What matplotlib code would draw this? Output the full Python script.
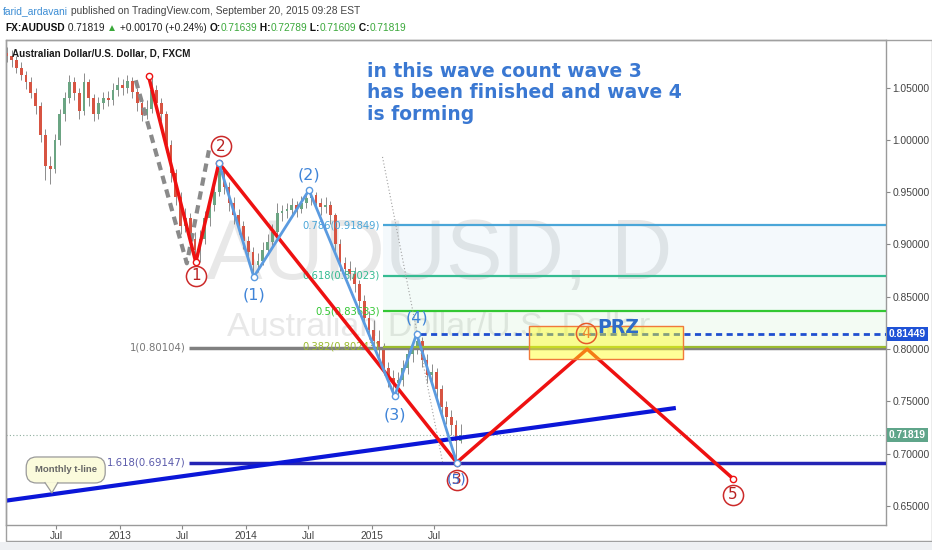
import matplotlib
matplotlib.use('Agg')
import matplotlib.pyplot as plt
import matplotlib.dates as mdates
import matplotlib.transforms as mtransforms
from matplotlib import font_manager
from matplotlib.patches import Rectangle, Polygon
import numpy as np
import pandas as pd

W, H = 932, 550

installed = {f.name for f in font_manager.fontManager.ttflist}
HAS_NARROW = 'Liberation Sans Narrow' in installed
NARROW = 'Liberation Sans Narrow' if HAS_NARROW else 'Liberation Sans'
SANS = 'Liberation Sans'
# text sizes drop a bit when the narrow face is missing
NS = 1.0 if HAS_NARROW else 0.84

# ---- candles (two-week bars) ----
bar_start = '2012-02-08'
opens = [1.083, 1.080, 1.076, 1.069, 1.062, 1.055, 1.045, 1.032, 1.005, 0.975,
         0.972, 1.000, 1.025, 1.040, 1.055, 1.045, 1.028, 1.055, 1.040, 1.025,
         1.035, 1.040, 1.038, 1.048, 1.052, 1.050, 1.056, 1.046, 1.035, 1.024,
         1.030, 1.048, 1.035, 1.025, 0.995, 0.968, 0.945, 0.918, 0.925, 0.905,
         0.895, 0.905, 0.925, 0.938, 0.950, 0.970, 0.955, 0.940, 0.928, 0.918,
         0.903, 0.893, 0.880, 0.884, 0.895, 0.902, 0.912, 0.930, 0.932, 0.933,
         0.938, 0.934, 0.940, 0.944, 0.947, 0.940, 0.936, 0.938, 0.928, 0.900,
         0.882, 0.877, 0.872, 0.862, 0.846, 0.830, 0.818, 0.808, 0.800, 0.782,
         0.772, 0.768, 0.770, 0.782, 0.795, 0.800, 0.808, 0.790, 0.775, 0.778,
         0.762, 0.745, 0.735, 0.727, 0.712]
highs = [1.089, 1.086, 1.080, 1.074, 1.066, 1.060, 1.050, 1.036, 1.010, 0.985,
         1.006, 1.030, 1.046, 1.062, 1.060, 1.050, 1.064, 1.058, 1.044, 1.041,
         1.046, 1.047, 1.054, 1.060, 1.058, 1.062, 1.060, 1.050, 1.040, 1.038,
         1.059, 1.052, 1.040, 1.028, 1.000, 0.972, 0.950, 0.935, 0.930, 0.912,
         0.914, 0.932, 0.945, 0.958, 0.978, 0.974, 0.960, 0.945, 0.934, 0.922,
         0.908, 0.898, 0.892, 0.902, 0.910, 0.920, 0.940, 0.938, 0.940, 0.944,
         0.942, 0.946, 0.950, 0.952, 0.950, 0.944, 0.945, 0.942, 0.930, 0.905,
         0.888, 0.884, 0.878, 0.866, 0.852, 0.836, 0.828, 0.818, 0.806, 0.788,
         0.780, 0.778, 0.790, 0.802, 0.808, 0.815, 0.812, 0.795, 0.786, 0.782,
         0.766, 0.750, 0.742, 0.732, 0.728]
lows = [1.074, 1.070, 1.064, 1.057, 1.049, 1.040, 1.025, 0.998, 0.962, 0.958,
        0.968, 0.995, 1.018, 1.035, 1.038, 1.020, 1.024, 1.032, 1.018, 1.020,
        1.030, 1.032, 1.033, 1.042, 1.043, 1.045, 1.040, 1.028, 1.018, 1.020,
        1.026, 1.028, 1.018, 0.988, 0.960, 0.938, 0.910, 0.912, 0.898, 0.886,
        0.883, 0.900, 0.918, 0.932, 0.946, 0.948, 0.932, 0.920, 0.910, 0.896,
        0.885, 0.871, 0.874, 0.880, 0.890, 0.898, 0.908, 0.922, 0.925, 0.928,
        0.926, 0.930, 0.935, 0.938, 0.934, 0.928, 0.930, 0.920, 0.892, 0.875,
        0.870, 0.866, 0.855, 0.840, 0.822, 0.810, 0.800, 0.792, 0.775, 0.764,
        0.758, 0.755, 0.765, 0.776, 0.788, 0.795, 0.783, 0.768, 0.768, 0.752,
        0.738, 0.728, 0.718, 0.692, 0.710]
closes = [1.080, 1.076, 1.069, 1.062, 1.055, 1.045, 1.032, 1.005, 0.975, 0.972,
          1.000, 1.025, 1.040, 1.055, 1.045, 1.028, 1.055, 1.040, 1.025, 1.035,
          1.040, 1.038, 1.048, 1.052, 1.050, 1.056, 1.046, 1.035, 1.024, 1.030,
          1.048, 1.035, 1.025, 0.995, 0.968, 0.945, 0.918, 0.925, 0.905, 0.895,
          0.905, 0.925, 0.938, 0.950, 0.970, 0.955, 0.940, 0.928, 0.918, 0.903,
          0.893, 0.880, 0.884, 0.895, 0.902, 0.912, 0.930, 0.932, 0.933, 0.938,
          0.934, 0.940, 0.944, 0.947, 0.940, 0.936, 0.938, 0.928, 0.900, 0.882,
          0.877, 0.872, 0.862, 0.846, 0.830, 0.818, 0.808, 0.800, 0.782, 0.772,
          0.768, 0.770, 0.782, 0.795, 0.800, 0.808, 0.790, 0.775, 0.778, 0.762,
          0.745, 0.735, 0.727, 0.712, 0.718]
last_price = 0.71819

# ---- wave counts ----
red_dates = ['2013-03-25', '2013-08-09', '2013-10-15', '2015-09-04']
red_prices = [1.061, 0.883, 0.978, 0.6915]
blue_dates = ['2013-10-15', '2014-01-24', '2014-07-03', '2015-03-08', '2015-05-11', '2015-09-04']
blue_prices = [0.978, 0.869, 0.952, 0.755, 0.8145, 0.6915]
proj_dates = ['2015-09-04', '2016-09-16', '2017-11-13']
proj_prices = [0.6915, 0.800, 0.676]
dash_dates = ['2013-02-16', '2013-07-14', '2013-09-16']
dash_prices = [1.057, 0.882, 0.990]
dotted_dates = ['2015-02-01', '2015-07-25']
dotted_prices = [0.9837, 0.692]
tline_dates = ['2012-01-31', '2017-05-31']
tline_prices = [0.6548, 0.7437]

# ---- fibonacci levels ----
fib_ratios = ['0.786', '0.618', '0.5', '0.382']
fib_prices = [0.91849, 0.87023, 0.83633, 0.80243]
fib_colors = ['#4aa6d8', '#35bb92', '#33c733', '#9bbb2e']
fib_start = '2015-02-01'
ext_ratios = ['1', '1.618']
ext_prices = [0.80104, 0.69147]
ext_colors = ['#808080', '#2424b4']
ext_text_colors = ['#777777', '#5a5aaa']
ext_start = '2013-07-20'
prz_dates = ['2016-03-31', '2017-06-20']
prz_prices = [0.7905, 0.8221]
wave4_level = 0.81449

xtick_dates = ['2012-07-01', '2013-01-01', '2013-07-01', '2014-01-01',
               '2014-07-01', '2015-01-01', '2015-07-01']
xtick_labels = ['Jul', '2013', 'Jul', '2014', 'Jul', '2015', 'Jul']


def fx(x):
    return x / W


def fy(y):
    return 1 - y / H


def dn(s):
    return mdates.datestr2num(s)


fig = plt.figure(figsize=(W / 100, H / 100), dpi=100)
fig.patch.set_facecolor('white')
ax = fig.add_axes([fx(6), fy(525), fx(886) - fx(6), fy(40) - fy(525)])
x_left, x_right = dn('2012-02-06'), dn('2019-01-30')
ax.set_xlim(x_left, x_right)
ax.set_ylim(0.6318, 1.0955)

# watermark
ax.text(0.492, 0.507, 'AUDUSD, D', transform=ax.transAxes, ha='center', va='baseline',
        fontsize=61, color='#e8e8e8', family=SANS, zorder=0)
ax.text(0.492, 0.390, 'Australian Dollar/U.S. Dollar', transform=ax.transAxes, ha='center',
        va='baseline', fontsize=24.5, color='#e8e8e8', family=SANS, zorder=0)

# candles
d = mdates.date2num(pd.date_range(bar_start, periods=len(closes), freq='14D'))
o, h, l, c = map(np.array, (opens, highs, lows, closes))
up = c >= o
ax.vlines(d, l, h, color='#7a7a7a', lw=0.6, zorder=3)
ax.bar(d, np.maximum(np.abs(c - o), 0.0015), bottom=np.minimum(o, c), width=8,
       color=np.where(up, '#6ba583', '#d75442'), linewidth=0, zorder=4)

# fibonacci retracement
fs = dn(fib_start)
for i in range(len(fib_prices) - 1):
    ax.fill_between([fs, x_right], fib_prices[i + 1], fib_prices[i], color=fib_colors[i],
                    alpha=0.06, lw=0, zorder=1)
for r, p, col in zip(fib_ratios, fib_prices, fib_colors):
    ax.hlines(p, fs, x_right, color=col, lw=1.6, zorder=5)
    ax.annotate(f'{r}({p:.5f})', xy=(fs, p), xytext=(-2, 0), textcoords='offset points',
                ha='right', va='center', fontsize=7.2, color=col, zorder=5)

# fibonacci extension
es = dn(ext_start)
for r, p, col, tc in zip(ext_ratios, ext_prices, ext_colors, ext_text_colors):
    ax.hlines(p, es, x_right, color=col, lw=2.5, zorder=4.5)
    ax.annotate(f'{r}({p:.5f})', xy=(es, p), xytext=(-2, 0), textcoords='offset points',
                ha='right', va='center', fontsize=7.3, color=tc, zorder=5)

# wave (4) level
ax.hlines(wave4_level, dn('2015-05-20'), x_right, color='#1f4fd0', lw=2,
          linestyles=(0, (2.2, 1.6)), zorder=5)

# current price line
ax.axhline(last_price, color='#8fae9e', lw=0.8, ls=(0, (1, 2)), zorder=2)

# monthly trend line
ax.plot(dn(tline_dates), tline_prices, color='#0b16d8', lw=3, zorder=6, solid_capstyle='butt')

# wave lines
ax.plot(dn(dash_dates), dash_prices, color='#8a8a8a', lw=3, ls=(0, (2, 1.4)), zorder=6)
ax.plot(dn(dotted_dates), dotted_prices, color='#a0a0a0', lw=0.8, ls=(0, (1, 2)), zorder=6)
ax.plot(dn(red_dates), red_prices, color='#ee1111', lw=2.5, zorder=7,
        marker='o', ms=4.5, mfc='white', mec='#ee1111', mew=1)
ax.plot(dn(blue_dates), blue_prices, color='#5b9be0', lw=2, zorder=8,
        marker='o', ms=4.5, mfc='white', mec='#5b9be0', mew=1)
ax.plot(dn(proj_dates), proj_prices, color='#ee1111', lw=2.5, zorder=7)
ax.plot(dn(proj_dates[-1]), proj_prices[-1], 'o', ms=4.5, mfc='white', mec='#ee1111', mew=1, zorder=8)

# PRZ box
pz = dn(prz_dates)
ax.add_patch(Rectangle((pz[0], prz_prices[0]), pz[1] - pz[0], prz_prices[1] - prz_prices[0],
                       facecolor=(1, 1, 0.1, 0.45), edgecolor='#f07a3a', lw=1, zorder=9))
ax.text(dn('2016-10-15'), 0.8205, 'PRZ', fontsize=13.5, fontweight='bold', color='#2f6cc8',
        ha='left', va='center', zorder=10)


# circled labels
def circled(date, price, label, edge, tcolor):
    ax.plot(dn(date), price, 'o', ms=14.5, mfc='none', mec=edge, mew=1.1, zorder=11)
    ax.text(dn(date), price, label, ha='center', va='center', fontsize=11, color=tcolor, zorder=12)


circled('2013-08-09', 0.870, '1', '#cc2a2a', '#b82222')
circled('2013-10-21', 0.994, '2', '#cc2a2a', '#b82222')
circled('2015-09-04', 0.6749, '3', '#cc2a2a', '#b82222')
ax.text(dn('2015-09-04'), 0.6749, '(5)', ha='center', va='center', fontsize=10,
        color='#3f6fd0', zorder=12)
circled('2016-09-12', 0.815, '4', '#e65a2a', '#f08a30')
circled('2017-11-13', 0.6605, '5', '#cc2a2a', '#b82222')

for date, price, label in [('2014-01-24', 0.852, '(1)'), ('2014-07-03', 0.966, '(2)'),
                           ('2015-03-08', 0.737, '(3)'), ('2015-05-11', 0.8297, '(4)')]:
    ax.text(dn(date), price, label, ha='center', va='center', fontsize=11.5,
            color='#3f84d8', zorder=12)

# callout
ax.text(dn('2012-07-28'), 0.6844, 'Monthly t-line', ha='center', va='center', fontsize=6.8,
        fontweight='bold', color='#666666', family=[NARROW, 'DejaVu Sans'], zorder=13,
        bbox=dict(boxstyle='round,pad=0.9,rounding_size=1.1', fc='#fbfbdc', ec='#9a9a9a', lw=0.9))
ax.add_patch(Polygon([(dn('2012-05-28'), 0.6728), (dn('2012-06-18'), 0.6624),
                      (dn('2012-07-06'), 0.6728)], closed=False, fc='#fbfbdc',
                     ec='#9a9a9a', lw=0.9, zorder=14))

# chart title
fig.text(fx(12), fy(54), 'Australian Dollar/U.S. Dollar, D, FXCM', ha='left', va='center',
         fontsize=8.5 * NS, fontweight='bold', color='#1a1a1a',
         family=[NARROW, 'DejaVu Sans'], zorder=15)

# comment
fig.text(fx(367), fy(62), 'in this wave count wave 3\nhas been finished and wave 4\nis forming',
         ha='left', va='top', fontsize=13.5, fontweight='bold', color='#3a78d2',
         linespacing=1.15, zorder=20)

# axes styling
for s in ax.spines.values():
    s.set_color('#9a9a9a')
    s.set_linewidth(1)
ax.yaxis.tick_right()
ax.set_yticks(np.arange(0.65, 1.051, 0.05))
ax.yaxis.set_major_formatter(matplotlib.ticker.FormatStrFormatter('%.5f'))
ax.set_xticks(dn(xtick_dates))
ax.set_xticklabels(xtick_labels)
ax.tick_params(axis='both', length=3, width=0.8, color='#888888', labelsize=7.4,
               labelcolor='#444444', pad=1.5)
for t in ax.get_xticklabels() + ax.get_yticklabels():
    t.set_family([NARROW, 'DejaVu Sans'])

trans = mtransforms.blended_transform_factory(ax.transAxes, ax.transData)
for p, col in [(wave4_level, '#1f52d6'), (last_price, '#5fa58a')]:
    ax.text(1.0 + 3 / 880, p, f'{p:.5f}', transform=trans, ha='left', va='center',
            fontsize=7.4, fontweight='bold', color='white',
            family=[NARROW, 'DejaVu Sans'], zorder=20,
            bbox=dict(fc=col, ec='none', pad=1.4), clip_on=False)

# outer frame and bottom strip
fig.patches.append(Rectangle((fx(6), fy(541)), fx(932) - fx(6), fy(40) - fy(541),
                             transform=fig.transFigure, fill=False, ec='#a0a0a0', lw=1))
fig.patches.append(Rectangle((0, 0), 1, fy(542), transform=fig.transFigure,
                             fc='#eef0f3', ec='none'))

# header lines: pieces placed one after another on a shared baseline
renderer = fig.canvas.get_renderer()


def chain(x, y, parts, size):
    fam = [NARROW, 'DejaVu Sans']
    xpix = x
    for s, col, wt in parts:
        t = fig.text(fx(xpix), fy(y), s, color=col, fontweight=wt, fontsize=size, family=fam,
                     ha='left', va='baseline')
        bb = t.get_window_extent(renderer)
        xpix += bb.width


green = '#3aa83a'
chain(3, 14, [('farid_ardavani', '#3c8dd4', 'normal'),
              (' published on TradingView.com, September 20, 2015 09:28 EST', '#444444', 'normal')],
      9 * NS * 0.98)
chain(5, 31, [('FX:AUDUSD', '#111111', 'bold'), (' 0.71819 ', '#222222', 'normal'),
              ('\u25b2', green, 'normal'), (' +0.00170 (+0.24%) ', '#222222', 'normal'),
              ('O:', '#111111', 'bold'), ('0.71639', green, 'normal'),
              (' H:', '#111111', 'bold'), ('0.72789', green, 'normal'),
              (' L:', '#111111', 'bold'), ('0.71609', green, 'normal'),
              (' C:', '#111111', 'bold'), ('0.71819', green, 'normal')], 8.7 * NS)

fig.savefig('out.png', dpi=100)
